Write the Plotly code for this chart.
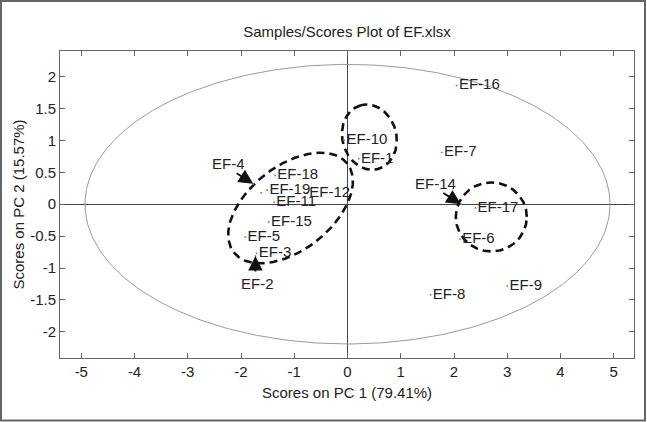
import numpy as np
import plotly.graph_objects as go

# ---------------- data ----------------
samples = ["EF-1", "EF-2", "EF-3", "EF-4", "EF-5", "EF-6", "EF-7", "EF-8", "EF-9", "EF-10",
           "EF-11", "EF-12", "EF-13", "EF-14", "EF-15", "EF-16", "EF-17", "EF-18", "EF-19"]
pc1 = [0.21, -1.73, -1.71, -1.77, -1.92, 2.11, 1.77, 1.56, 3.00, -0.06,
       -1.38, -0.76, -1.62, 2.13, -1.48, 2.05, 2.40, -1.36, -1.51]
pc2 = [0.71, -0.81, -0.77, 0.32, -0.52, -0.55, 0.81, -1.42, -1.28, 1.00,
       0.03, 0.17, 0.18, 0.00, -0.28, 1.86, -0.06, 0.45, 0.22]
# labels drawn beside the point (empty = drawn elsewhere / unlabeled)
point_labels = ["EF-1", "", "EF-3", "", "EF-5", "EF-6", "EF-7", "EF-8", "EF-9", "EF-10",
                "EF-11", "EF-12", "", "", "EF-15", "EF-16", "EF-17", "EF-18", "EF-19"]
# labels attached by arrows: (label, label position, arrow tail)
arrow_labels = ["EF-4", "EF-14", "EF-2"]
arrow_text_pos = [(-2.24, 0.64), (1.65, 0.33), (-1.69, -1.24)]
arrow_tail = [(-2.11, 0.50), (1.77, 0.19), (-1.73, -1.08)]

x_ticks = [-5, -4, -3, -2, -1, 0, 1, 2, 3, 4, 5]
y_ticks = [-2, -1.5, -1, -0.5, 0, 0.5, 1, 1.5, 2]
x_range = [-5.40, 5.38]
y_range = [-2.41, 2.40]

conf_a, conf_b = 4.93, 2.19          # confidence ellipse semi-axes
# dashed group ellipses: centre (data), semi-axes (screen px), angle (deg)
groups = [((-1.07, -0.06), 72, 42, 38),
          ((0.41, 1.05), 33, 27, 105),
          ((2.70, -0.20), 35.5, 34.5, 0)]

FONT = "Arial, Liberation Sans, Helvetica, sans-serif"
W, H = 647, 422
ML, MR, MT, MB = 60, 13, 51, 64
PW, PH = W - ML - MR, H - MT - MB
kx = PW / (x_range[1] - x_range[0])
ky = PH / (y_range[1] - y_range[0])

fig = go.Figure()

t = np.linspace(0, 2 * np.pi, 361)
fig.add_trace(go.Scatter(x=conf_a * np.cos(t), y=conf_b * np.sin(t), mode="lines",
                         line=dict(color="#9a9a9a", width=1), hoverinfo="skip",
                         showlegend=False))

for (cx, cy), a, b, ang in groups:
    th = np.radians(ang)
    u = a * np.cos(t)
    v = b * np.sin(t)
    sx = u * np.cos(th) - v * np.sin(th)
    sy = u * np.sin(th) + v * np.cos(th)
    fig.add_trace(go.Scatter(x=cx + sx / kx, y=cy + sy / ky, mode="lines",
                             line=dict(color="#111111", width=2.6, dash="8px,5px"),
                             hoverinfo="skip", showlegend=False))

fig.add_trace(go.Scatter(x=pc1, y=pc2, mode="markers+text", text=point_labels,
                         textposition="middle right",
                         textfont=dict(family=FONT, size=15, color="#222222"),
                         marker=dict(size=2, color="#888888"),
                         hovertext=samples, showlegend=False))

for lab, (tx, ty), (ax, ay) in zip(arrow_labels, arrow_text_pos, arrow_tail):
    i = samples.index(lab)
    fig.add_annotation(x=pc1[i], y=pc2[i], ax=ax, ay=ay, axref="x", ayref="y",
                       xref="x", yref="y", text="", showarrow=True, arrowhead=2,
                       arrowsize=1.45, arrowwidth=2, arrowcolor="#111111")
    fig.add_annotation(x=tx, y=ty, xref="x", yref="y", text=lab, showarrow=False,
                       font=dict(family=FONT, size=15, color="#222222"))

axis_common = dict(showline=True, linecolor="#666666", linewidth=1, mirror="ticks",
                   ticks="inside", ticklen=5, tickcolor="#666666", showgrid=False,
                   zeroline=True, zerolinecolor="#444444", zerolinewidth=1,
                   tickfont=dict(family=FONT, size=15, color="#222222"))

fig.update_xaxes(range=x_range, tickvals=x_ticks, ticktext=[str(v) for v in x_ticks],
                 **axis_common)
fig.update_yaxes(range=y_range, tickvals=y_ticks, ticktext=[f"{v:g}" for v in y_ticks],
                 **axis_common)

fig.add_annotation(text="Scores on PC 1 (79.41%)", xref="paper", yref="paper",
                   x=0.5, y=((H - MB) - 392) / PH, showarrow=False,
                   yanchor="middle", font=dict(family=FONT, size=15, color="#222222"))
fig.add_annotation(text="Scores on PC 2 (15.57%)", xref="paper", yref="paper",
                   x=(18 - ML) / PW, y=0.5, textangle=-90, showarrow=False,
                   xanchor="center", yanchor="middle",
                   font=dict(family=FONT, size=15, color="#222222"))

# outer frame of the picture
fig.add_shape(type="rect", xref="paper", yref="paper",
              x0=(1 - ML) / PW, x1=(W - 2 - ML) / PW,
              y0=((H - MB) - (H - 1.5)) / PH, y1=((H - MB) - 1) / PH,
              line=dict(color="#666666", width=2))

fig.update_layout(
    width=W, height=H,
    margin=dict(l=ML, r=MR, t=MT, b=MB),
    paper_bgcolor="white", plot_bgcolor="white",
    title=dict(text="Samples/Scores Plot of EF.xlsx", x=(ML + PW / 2) / W, xanchor="center",
               y=1 - 32 / H, yanchor="middle",
               font=dict(family=FONT, size=15, color="#222222")),
    showlegend=False,
)

fig.write_html("out.html", config={"displayModeBar": False},
               post_script="document.body.style.margin='0px';document.body.style.overflow='hidden';")
